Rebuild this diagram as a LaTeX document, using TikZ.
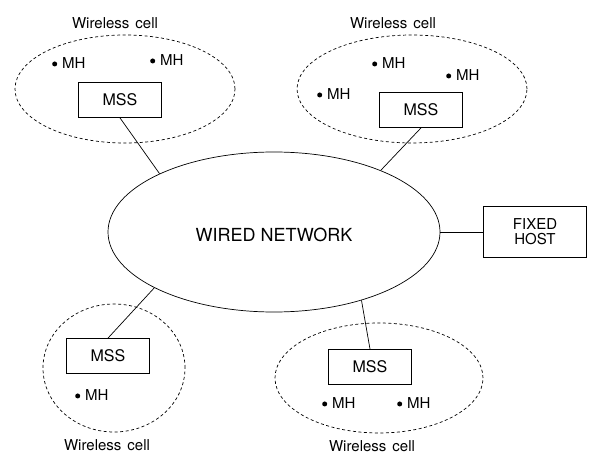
\documentclass[tikz,border=0pt]{standalone}
\usepackage{fontspec}
\setmainfont{TeX Gyre Heros}
\usetikzlibrary{positioning, shapes.geometric}
\tikzset{
  cell/.style={ellipse, draw, dash pattern=on 3pt off 2.5pt, inner sep=0pt},
  mssbox/.style={draw, thick, minimum width=83pt, minimum height=35pt, inner sep=0pt, font=\fontsize{16}{18}\selectfont},
  mh/.style={anchor=west, inner sep=0pt, font=\fontsize{15}{17}\selectfont},
  celllabel/.style={inner sep=0pt, font=\fontsize{15}{17}\selectfont},
}
\newcommand{\mhdot}{\tikz[baseline=-4.5pt]\fill (0,0) circle (2.5pt);\hspace{5pt}}

\begin{document}
\begin{tikzpicture}[x=1pt, y=-1pt, font=\fontsize{15}{17}\selectfont, line width=0.7pt]
  \useasboundingbox (0,0) rectangle (591,457);

  % backbone
  \node[ellipse, draw, minimum width=332pt, minimum height=160pt, inner sep=0pt] (wired) at (274,232) {};
  \node[font=\fontsize{18}{20}\selectfont] (wiredtxt) at (274,235) {WIRED NETWORK};
  \node[draw, thick, minimum width=103pt, minimum height=51pt, align=center, inner sep=0pt] (host) at (535,232) {FIXED\\[-2pt]HOST};

  % the four cells
  \node[cell, minimum width=220pt, minimum height=108pt] (cellA) at (125,89) {};
  \node[cell, minimum width=230pt, minimum height=108pt] (cellB) at (412,89) {};
  \node[cell, minimum width=142pt, minimum height=128pt] (cellC) at (114,368) {};
  \node[cell, minimum width=208pt, minimum height=110pt] (cellD) at (379,378) {};

  \node[celllabel] (labA) at (115,23) {Wireless\hspace{6pt}cell};
  \node[celllabel] (labB) at (393,23) {Wireless\hspace{6pt}cell};
  \node[celllabel] (labC) at (107,445) {Wireless\hspace{6pt}cell};
  \node[celllabel] (labD) at (372,446) {Wireless\hspace{6pt}cell};

  \node[mssbox] (mssA) at (120,100) {MSS};
  \node[mssbox] (mssB) at (421,110) {MSS};
  \node[mssbox] (mssC) at (108,356) {MSS};
  \node[mssbox] (mssD) at (370,367) {MSS};

  % mobile hosts
  \node[mh] (mhA1) at (52,63) {\mhdot MH};
  \node[mh] (mhA2) at (150,60) {\mhdot MH};
  \node[mh] (mhB1) at (372,63) {\mhdot MH};
  \node[mh] (mhB2) at (446,75) {\mhdot MH};
  \node[mh] (mhB3) at (317,94) {\mhdot MH};
  \node[mh] (mhC1) at (75,395) {\mhdot MH};
  \node[mh] (mhD1) at (322,403) {\mhdot MH};
  \node[mh] (mhD2) at (397,403) {\mhdot MH};

  % links to the wired network
  \draw (mssA.south) -- (wired.153);
  \draw (mssB.south) -- (wired.30);
  \draw (mssC.north) -- (wired.205);
  \draw (mssD.north) -- (wired.322);
  \draw (wired.east) -- (host.west);
\end{tikzpicture}
\end{document}
